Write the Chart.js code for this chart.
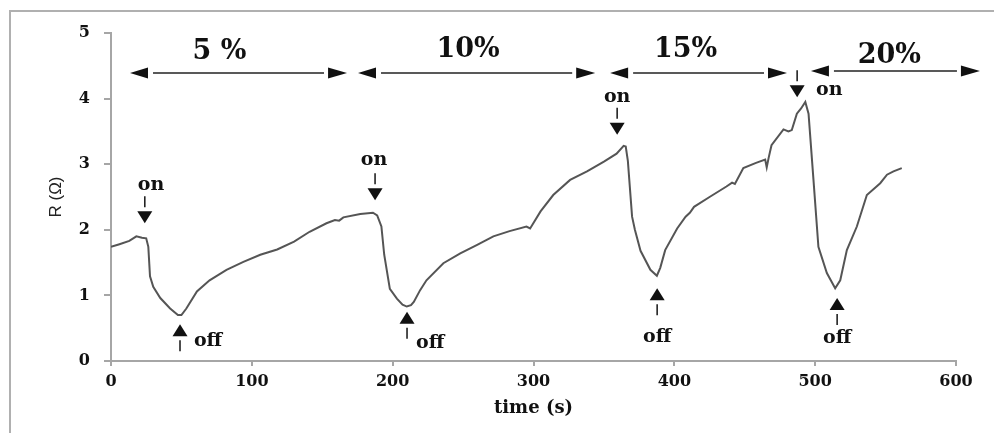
<!DOCTYPE html>
<html>
<head>
<meta charset="utf-8">
<script src="https://cdn.jsdelivr.net/npm/chart.js@4.4.1/dist/chart.umd.min.js"></script>
<style>
  html, body { margin: 0; padding: 0; background: #ffffff; }
  canvas { display: block; }
</style>
</head>
<body>
<canvas id="c" width="994" height="433"></canvas>
<script>
// ---- Data ----
const times = [0, 6, 13, 18, 22, 25, 26.5, 27.7, 30, 35, 42, 47.5, 50, 53.5, 61, 70, 82, 94, 106, 118, 130, 141, 153, 159, 162, 165, 177, 186, 189, 192, 194, 198, 203, 207, 210, 213, 215, 219.5, 224, 236, 248, 260, 271.5, 283, 295, 297.6, 305, 314, 326, 338, 350, 359, 364, 365.5, 367, 370, 372, 376, 383, 387.6, 390, 393.5, 402, 408, 411, 414, 425, 437, 441, 443, 449, 458, 464.5, 465.6, 467, 469, 477.5, 481, 483.4, 487, 490, 493, 495.3, 498.8, 502.3, 508.3, 514.2, 517.8, 522.5, 529.6, 536.7, 546.2, 551, 555.6, 561.5];
const resistance = [1.74, 1.78, 1.83, 1.90, 1.88, 1.87, 1.74, 1.29, 1.13, 0.96, 0.80, 0.70, 0.70, 0.80, 1.06, 1.23, 1.39, 1.51, 1.62, 1.70, 1.82, 1.97, 2.10, 2.15, 2.14, 2.19, 2.24, 2.26, 2.22, 2.05, 1.62, 1.10, 0.95, 0.86, 0.83, 0.85, 0.90, 1.08, 1.23, 1.49, 1.64, 1.77, 1.90, 1.98, 2.05, 2.02, 2.28, 2.53, 2.76, 2.89, 3.04, 3.16, 3.28, 3.27, 3.05, 2.20, 2.00, 1.68, 1.39, 1.30, 1.42, 1.69, 2.02, 2.20, 2.26, 2.35, 2.50, 2.66, 2.72, 2.70, 2.94, 3.02, 3.07, 2.95, 3.10, 3.29, 3.53, 3.50, 3.52, 3.77, 3.85, 3.95, 3.77, 2.76, 1.74, 1.34, 1.11, 1.23, 1.69, 2.05, 2.53, 2.71, 2.84, 2.89, 2.94];

const xTickValues = [0, 100, 200, 300, 400, 500, 600];
const yTickValues = [0, 1, 2, 3, 4, 5];

// Concentration ranges (arrows across the top)
const concLabels = ['5 %', '10%', '15%', '20%'];
const concStart = [13.5, 175.4, 354.4, 497];
const concEnd = [167.6, 343.8, 480, 617];
const concArrowR = [4.39, 4.39, 4.39, 4.42];
const concLabelT = [77, 253.6, 408, 552.6];
const concLabelR = [4.71, 4.74, 4.74, 4.65];

// on / off markers: arrow tip (time, R) and label centre (time, R)
const markerText = ['on', 'on', 'on', 'on', 'off', 'off', 'off', 'off'];
const markerTipT = [24, 187.5, 359.4, 487.2, 49, 210.2, 387.8, 515.6];
const markerTipR = [2.10, 2.45, 3.45, 4.02, 0.56, 0.75, 1.11, 0.96];
const markerLabelT = [28.4, 186.8, 359.4, 510, 68.9, 226.6, 387.8, 515.6];
const markerLabelR = [2.68, 3.06, 4.02, 4.13, 0.30, 0.27, 0.37, 0.35];

// ---- Styles ----
const AXIS = '#a6a6a6';
const INK = '#111111';
const serifBold = (size) => ({ family: '"DejaVu Serif", serif', size: size, weight: 'bold' });

const annotationPlugin = {
  id: 'annotations',
  beforeDraw(chart) {
    const c = chart.ctx;
    c.save();
    c.strokeStyle = '#b0b0b0';
    c.lineWidth = 2;
    c.beginPath();
    c.moveTo(10, 433);
    c.lineTo(10, 11);
    c.lineTo(994, 11);
    c.stroke();
    c.restore();
  },
  afterDraw(chart) {
    const c = chart.ctx;
    const xs = chart.scales.x, ys = chart.scales.y;
    c.save();
    c.fillStyle = INK;
    c.strokeStyle = '#222';
    // concentration ranges
    for (let i = 0; i < concLabels.length; i++) {
      const xl = xs.getPixelForValue(concStart[i]);
      const xr = xs.getPixelForValue(concEnd[i]);
      const y = ys.getPixelForValue(concArrowR[i]);
      c.beginPath();
      c.moveTo(xl, y); c.lineTo(xl + 18, y - 5.5); c.lineTo(xl + 18, y + 5.5); c.closePath(); c.fill();
      c.beginPath();
      c.moveTo(xr, y); c.lineTo(xr - 19, y - 5.5); c.lineTo(xr - 19, y + 5.5); c.closePath(); c.fill();
      c.lineWidth = 1.5;
      c.beginPath();
      c.moveTo(xl + 23, y); c.lineTo(xr - 23, y); c.stroke();
      c.font = 'bold 27px "DejaVu Serif", serif';
      c.textAlign = 'center'; c.textBaseline = 'middle';
      c.fillText(concLabels[i], xs.getPixelForValue(concLabelT[i]), ys.getPixelForValue(concLabelR[i]));
    }
    // on/off markers
    for (let i = 0; i < markerText.length; i++) {
      const x = xs.getPixelForValue(markerTipT[i]);
      const y = ys.getPixelForValue(markerTipR[i]);
      const down = markerText[i] === 'on';
      const d = down ? -1 : 1;
      c.beginPath();
      c.moveTo(x, y); c.lineTo(x - 7.5, y + d * 12); c.lineTo(x + 7.5, y + d * 12); c.closePath(); c.fill();
      c.lineWidth = 1.6;
      c.beginPath();
      c.moveTo(x, y + d * 16); c.lineTo(x, y + d * 27); c.stroke();
      c.font = 'bold 19px "DejaVu Serif", serif';
      c.textAlign = 'center'; c.textBaseline = 'middle';
      c.fillText(markerText[i], xs.getPixelForValue(markerLabelT[i]), ys.getPixelForValue(markerLabelR[i]));
    }
    c.restore();
  }
};

new Chart(document.getElementById('c'), {
  type: 'scatter',
  data: {
    datasets: [{
      data: times.map((t, i) => ({ x: t, y: resistance[i] })),
      showLine: true,
      borderColor: '#555555',
      borderWidth: 2,
      pointRadius: 0,
      tension: 0
    }]
  },
  options: {
    responsive: false,
    animation: false,
    layout: { padding: { left: 0, top: 33, right: 38, bottom: 0 } },
    plugins: { legend: { display: false }, tooltip: { enabled: false } },
    scales: {
      x: {
        type: 'linear', min: 0, max: 600,
        afterBuildTicks(s) { s.ticks = xTickValues.map(v => ({ value: v })); },
        afterFit(s) { s.height = 72; },
        ticks: { font: serifBold(16), color: INK, padding: 6, maxRotation: 0 },
        grid: { drawOnChartArea: false, tickLength: 5, color: AXIS, lineWidth: 2 },
        border: { color: AXIS, width: 2 },
        title: { display: true, text: 'time (s)', font: serifBold(18), color: INK, padding: { top: 0, bottom: 14 } }
      },
      y: {
        type: 'linear', min: 0, max: 5,
        afterBuildTicks(s) { s.ticks = yTickValues.map(v => ({ value: v })); },
        afterFit(s) { s.width = 111; },
        ticks: { font: serifBold(16), color: INK, padding: 14 },
        grid: { drawOnChartArea: false, tickLength: 7, color: AXIS, lineWidth: 2 },
        border: { color: AXIS, width: 2 },
        title: { display: true, text: 'R (Ω)', font: { family: '"Liberation Sans", Arial, sans-serif', size: 17 }, color: '#222', padding: { top: 46, bottom: 0 } }
      }
    }
  },
  plugins: [annotationPlugin]
});
</script>
</body>
</html>
